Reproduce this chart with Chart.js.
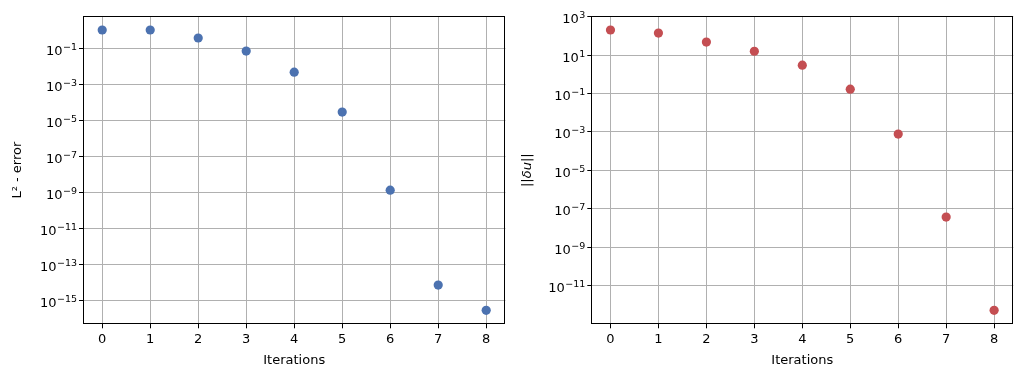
<!DOCTYPE html>
<html>
<head>
<meta charset="utf-8">
<script src="https://cdn.jsdelivr.net/npm/chart.js@4.4.0/dist/chart.umd.min.js"></script>
<style>
  html, body { margin: 0; padding: 0; background: #fff; }
  #wrap { position: relative; width: 1023px; height: 377px; }
  canvas { position: absolute; top: 0; }
  #chart-l2 { left: 0; }
  #chart-du { left: 510px; }
</style>
</head>
<body>
<div id="wrap">
  <canvas id="chart-l2" width="510" height="377"></canvas>
  <canvas id="chart-du" width="513" height="377"></canvas>
</div>
<script>
// ── Datos ────────────────────────────────────────────────────
const ITERACIONES = [0, 1, 2, 3, 4, 5, 6, 7, 8];
const ERROR_L2    = [1.0, 1.0, 0.36, 0.068, 4.6e-3, 2.8e-5, 1.3e-9, 7e-15, 2.8e-16];
const NORMA_DU    = [204, 141, 48, 16, 3.0, 0.17, 7.8e-4, 3.7e-8, 5.2e-13];

const TICKS_X   = [0, 1, 2, 3, 4, 5, 6, 7, 8];
const EXP_L2    = [-15, -13, -11, -9, -7, -5, -3, -1];
const EXP_DU    = [-11, -9, -7, -5, -3, -1, 1, 3];

const AZUL = '#4c72b0';
const ROJO = '#c44e52';
const FUENTE = '"DejaVu Sans", sans-serif';

Chart.defaults.font.family = FUENTE;
Chart.defaults.font.size = 13;
Chart.defaults.color = '#000';
Chart.defaults.animation = false;

// ── Helpers ──────────────────────────────────────────────────

/** Límites log con margen del 5% (como matplotlib) */
function limitesLog(valores) {
  const logs = valores.map(v => Math.log10(v));
  const lo = Math.min(...logs), hi = Math.max(...logs);
  const m = (hi - lo) * 0.05;
  return [Math.pow(10, lo - m), Math.pow(10, hi + m)];
}

// marco negro alrededor del área del gráfico
const marco = {
  id: 'marco',
  afterDraw(chart) {
    const { ctx, chartArea: a } = chart;
    const l = Math.round(a.left) + 0.5, t = Math.round(a.top) + 0.5;
    const r = Math.round(a.right) - 0.5, b = Math.round(a.bottom) - 0.5;
    ctx.save();
    ctx.strokeStyle = '#000';
    ctx.lineWidth = 1;
    ctx.strokeRect(l, t, r - l, b - t);
    ctx.restore();
  }
};

// etiquetas "10^e" con exponente en superíndice (estilo mathtext)
const potencias = {
  id: 'potencias',
  afterDraw(chart) {
    const { ctx, chartArea: a } = chart;
    const s = chart.scales.y;
    const xFin = a.left - 6;
    ctx.save();
    ctx.fillStyle = '#000';
    ctx.textBaseline = 'alphabetic';
    ctx.textAlign = 'right';
    s.ticks.forEach(t => {
      const y = s.getPixelForValue(t.value);
      const e = Math.round(Math.log10(t.value));
      const exp = (e < 0 ? '\u2212' : '') + Math.abs(e);
      ctx.font = '9.5px ' + FUENTE;
      ctx.fillText(exp, xFin, y + 1.5);
      const wExp = ctx.measureText(exp).width;
      ctx.font = '13px ' + FUENTE;
      ctx.fillText('10', xFin - wExp - 0.5, y + 6.5);
    });
    ctx.restore();
  }
};

function crearGrafico(id, valores, color, exps, titulo, italica, ancho, pad) {
  const [ymin, ymax] = limitesLog(valores);
  return new Chart(document.getElementById(id), {
    type: 'scatter',
    data: {
      datasets: [{
        data: ITERACIONES.map((x, i) => ({ x: x, y: valores[i] })),
        backgroundColor: color,
        borderWidth: 0,
        pointRadius: 4.6,
        pointHoverRadius: 4.6
      }]
    },
    options: {
      responsive: false,
      layout: { padding: pad },
      plugins: { legend: { display: false }, tooltip: { enabled: false } },
      scales: {
        x: {
          type: 'linear',
          min: -0.4,
          max: 8.4,
          afterFit: s => { s.height = 377 - 324.3; },
          afterBuildTicks: s => { s.ticks = TICKS_X.map(v => ({ value: v })); },
          ticks: { padding: 4, callback: v => String(v) },
          grid: { color: '#b0b0b0', lineWidth: 1, tickColor: '#000', tickLength: 4 },
          border: { display: false },
          title: { display: true, text: 'Iterations', padding: { top: 0, bottom: 9 } }
        },
        y: {
          type: 'logarithmic',
          min: ymin,
          max: ymax,
          afterFit: s => { s.width = ancho; },
          afterBuildTicks: s => { s.ticks = exps.map(e => ({ value: Math.pow(10, e) })); },
          ticks: { display: false },
          grid: { color: '#b0b0b0', lineWidth: 1, tickColor: '#000', tickLength: 4 },
          border: { display: false },
          title: {
            display: true,
            text: titulo,
            font: { style: italica ? 'italic' : 'normal' },
            padding: { top: 10, bottom: 0 }
          }
        }
      }
    },
    plugins: [marco, potencias]
  });
}

// ── Gráficos ─────────────────────────────────────────────────

crearGrafico('chart-l2', ERROR_L2, AZUL, EXP_L2, 'L² - error', false, 83,
             { top: 16, right: 3.3, left: 0, bottom: 0 });

crearGrafico('chart-du', NORMA_DU, ROJO, EXP_DU, '||δu||', true, 81.3,
             { top: 16, right: 9.7, left: 0, bottom: 0 });
</script>
</body>
</html>
